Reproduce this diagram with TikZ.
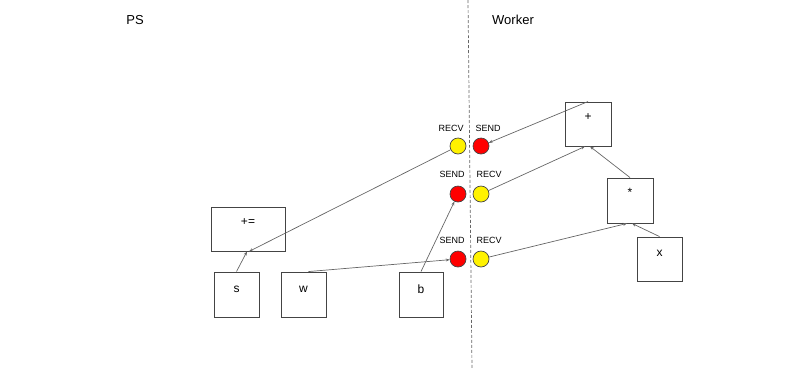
\documentclass[tikz,border=0pt]{standalone}
\usepackage{fontspec}
\setmainfont{Liberation Sans}
\usetikzlibrary{arrows.meta,calc}
\definecolor{linegray}{HTML}{666666}
\definecolor{boxgray}{HTML}{444444}
\tikzset{
  box/.style={draw=boxgray, line width=0.9pt, rectangle, inner sep=0pt},
  boxtext/.style={font=\fontsize{12}{14}\selectfont},
  dot/.style={circle, draw=boxgray, line width=0.7pt, minimum size=16pt, inner sep=0pt},
  yel/.style={dot, fill=yellow},
  redd/.style={dot, fill=red},
  tag/.style={font=\fontsize{9}{11}\selectfont, inner sep=0pt},
  head/.style={font=\fontsize{13}{15}\selectfont, inner sep=0pt},
  conn/.style={draw=linegray, line width=0.7pt, -{Stealth[length=4pt,width=3pt]}}
}
\begin{document}
\begin{tikzpicture}[x=1pt,y=-1pt]
\useasboundingbox (0,0) rectangle (800,368);
% divider
\coordinate (dtop) at (468,0);
\coordinate (dbot) at (472,368);
\draw[draw=linegray, line width=0.7pt, dash pattern=on 3pt off 2pt] (dtop) -- (dbot);
% headings
\node[head] (ps) at (135,20) {PS};
\node[head] (wk) at (513,20) {Worker};
% boxes
\node[box, minimum width=74pt, minimum height=44pt] (pe) at (248,229) {};
\node[boxtext] (pet) at (248,222) {+=};
\node[box, minimum width=45pt, minimum height=45pt] (s) at (236.5,294.5) {};
\node[boxtext] (st) at (236.5,289) {s};
\node[box, minimum width=45pt, minimum height=45pt] (w) at (303.5,294.5) {};
\node[boxtext] (wt) at (303.5,289) {w};
\node[box, minimum width=44pt, minimum height=45pt] (b) at (421,294.5) {};
\node[boxtext] (bt) at (421,289) {b};
\node[box, minimum width=46pt, minimum height=44pt] (plus) at (588,124) {};
\node[boxtext] (plust) at (588,117) {+};
\node[box, minimum width=46pt, minimum height=45pt] (star) at (630,200.5) {};
\node[boxtext] (start) at (630,192) {*};
\node[box, minimum width=45pt, minimum height=44pt] (x) at (659.5,259) {};
\node[boxtext] (xt) at (659.5,253) {x};
% circles
\node[yel]  (r1) at (458,146) {};
\node[redd] (s1) at (481,146) {};
\node[redd] (s2) at (458,194) {};
\node[yel]  (r2) at (481,194) {};
\node[redd] (s3) at (458,259) {};
\node[yel]  (r3) at (481,259) {};
% circle labels
\node[tag] (l1a) at (451,128) {RECV};
\node[tag] (l1b) at (488,128) {SEND};
\node[tag] (l2a) at (452,174) {SEND};
\node[tag] (l2b) at (489,174) {RECV};
\node[tag] (l3a) at (452,240) {SEND};
\node[tag] (l3b) at (489,240) {RECV};
% connectors
\draw[conn] (plus.north) -- (s1);
\draw[conn] (r1) -- ($(pe.south)+(1,0)$);
\draw[conn] (s.north) -- ($(pe.south)+(-1,0)$);
\draw[conn] ($(w.north)+(5,0)$) -- (s3);
\draw[conn] (b.north) -- (s2);
\draw[conn] (r2) -- ($(plus.south)+(-3,0)$);
\draw[conn] (star.north) -- ($(plus.south)+(2,0)$);
\draw[conn] (r3) -- ($(star.south)+(-3,0)$);
\draw[conn] (x.north) -- ($(star.south)+(2,0)$);
\end{tikzpicture}
\end{document}
